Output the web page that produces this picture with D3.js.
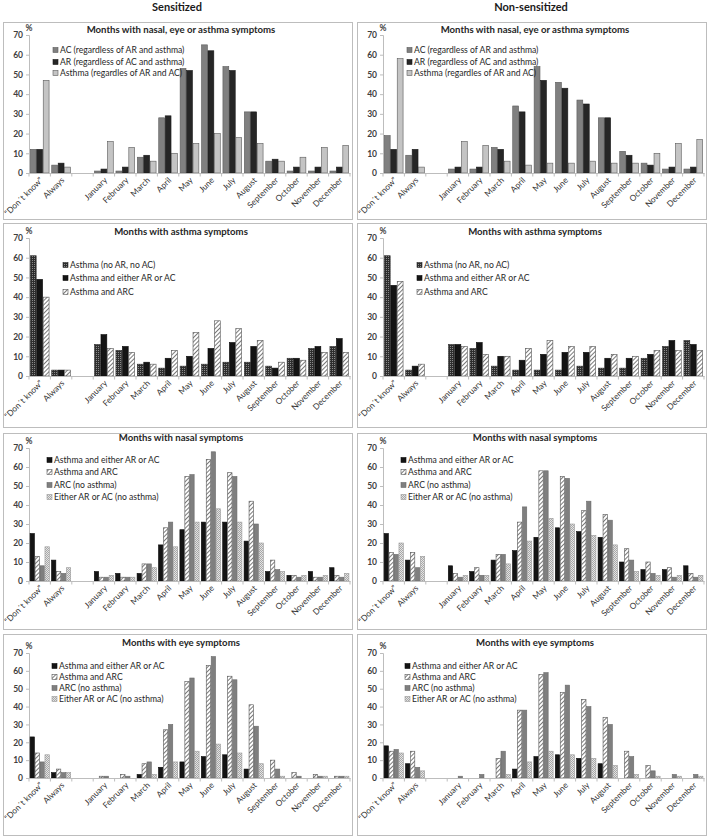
<!DOCTYPE html>
<html><head><meta charset="utf-8">
<script src="https://cdn.jsdelivr.net/npm/d3@7/dist/d3.min.js"></script>
<style>
body{margin:0;background:#fff;}
svg{display:block;font-family:Lato, "Open Sans", sans-serif;}
</style></head>
<body><svg id="chart" width="709" height="837"></svg>
<script>
// ---------- DATA ----------
const categories = ["\u201cDon\u00b4t know\u201d","Always","January","February","March","April","May","June","July","August","September","October","November","December"];
const yTicks = [0,10,20,30,40,50,60,70];
const columnTitles = ["Sensitized","Non-sensitized"];
const panelTitles = ["Months with nasal, eye or asthma symptoms","Months with asthma symptoms","Months with nasal symptoms","Months with eye symptoms"];

const seriesRow1 = ["AC (regardless of AR and asthma)","AR (regardless of AC and asthma)","Asthma (regardles of AR and AC)"];
const seriesRow2 = ["Asthma (no AR, no AC)","Asthma and either AR or AC","Asthma and ARC"];
const seriesRow34 = ["Asthma and either AR or AC","Asthma and ARC","ARC (no asthma)","Either AR or AC (no asthma)"];

// Row 1 - nasal, eye or asthma
const s1_AC     = [12,4,1,1,8,28,53,65,54,31,6,1,1,1];
const s1_AR     = [12,5,2,3,9,29,52,62,52,31,7,3,3,3];
const s1_Asthma = [47,3,16,13,6,10,15,20,18,15,6,8,13,14];
const n1_AC     = [19,9,2,2,13,34,54,46,37,28,11,5,2,2];
const n1_AR     = [12,12,3,3,12,31,47,43,35,28,9,4,3,3];
const n1_Asthma = [58,3,16,14,6,4,5,5,6,5,5,10,15,17];

// Row 2 - asthma symptoms
const s2_AsthmaOnly = [61,3,16,13,6,4,5,6,7,7,5,9,14,15];
const s2_AsthmaEither = [49,3,21,15,7,9,10,14,17,15,4,9,15,19];
const s2_AsthmaARC  = [40,3,14,12,6,13,22,28,24,18,7,8,12,12];
const n2_AsthmaOnly = [61,3,16,14,5,3,3,3,5,4,4,9,15,18];
const n2_AsthmaEither = [46,5,16,17,10,8,11,12,12,9,9,11,18,16];
const n2_AsthmaARC  = [48,6,15,11,10,14,18,15,15,11,10,13,13,13];

// Row 3 - nasal symptoms
const s3_AsthmaEither = [25,11,5,4,4,19,27,31,31,21,5,3,5,7];
const s3_AsthmaARC    = [13,5,2,2,9,28,55,64,57,42,11,3,2,3];
const s3_ARC          = [8,4,2,2,9,31,56,68,55,30,6,2,2,2];
const s3_Either       = [18,7,3,2,7,18,31,38,31,20,5,3,3,4];
const n3_AsthmaEither = [25,11,8,5,11,16,23,28,26,23,10,6,6,8];
const n3_AsthmaARC    = [15,15,4,7,14,31,58,55,37,35,17,10,7,4];
const n3_ARC          = [14,7,2,3,14,39,58,54,42,32,11,4,2,2];
const n3_Either       = [20,13,3,3,9,21,33,30,24,19,5,3,3,3];

// Row 4 - eye symptoms
const s4_AsthmaEither = [23,3,0,0,2,6,9,12,13,5,0,0,0,0];
const s4_AsthmaARC    = [14,5,1,2,8,27,54,63,57,41,10,3,2,1];
const s4_ARC          = [9,3,1,1,9,30,56,68,55,29,5,1,1,1];
const s4_Either       = [13,3,0,0,2,9,15,19,14,8,1,0,1,1];
const n4_AsthmaEither = [18,8,0,0,0,5,12,13,11,8,0,0,0,0];
const n4_AsthmaARC    = [15,15,0,0,11,38,58,48,44,34,15,7,0,0];
const n4_ARC          = [16,6,1,2,15,38,59,52,40,30,12,4,2,2];
const n4_Either       = [14,4,0,0,2,9,15,13,11,7,2,1,1,1];

// ---------- STYLE / LAYOUT ----------
const svg = d3.select("#chart");
const defs = svg.append("defs");
// patterns
const pDots = defs.append("pattern").attr("id","dotsDark").attr("width",2).attr("height",2).attr("patternUnits","userSpaceOnUse");
pDots.append("rect").attr("width",2).attr("height",2).attr("fill","#2e2e2e");
pDots.append("rect").attr("width",1).attr("height",1).attr("fill","#8a8a8a");
const pHatch = defs.append("pattern").attr("id","hatch").attr("width",3).attr("height",3).attr("patternUnits","userSpaceOnUse").attr("patternTransform","rotate(45)");
pHatch.append("rect").attr("width",3).attr("height",3).attr("fill","#ffffff");
pHatch.append("line").attr("x1",0.5).attr("y1",0).attr("x2",0.5).attr("y2",3).attr("stroke","#7a7a7a").attr("stroke-width",1);
const pCheck = defs.append("pattern").attr("id","checkLight").attr("width",2).attr("height",2).attr("patternUnits","userSpaceOnUse");
pCheck.append("rect").attr("width",2).attr("height",2).attr("fill","#e4e4e4");
pCheck.append("rect").attr("width",1).attr("height",1).attr("fill","#a8a8a8");
pCheck.append("rect").attr("x",1).attr("y",1).attr("width",1).attr("height",1).attr("fill","#a8a8a8");

const styles = {
  "AC (regardless of AR and asthma)": {fill:"#808080", stroke:"#5a5a5a"},
  "AR (regardless of AC and asthma)": {fill:"#262626", stroke:"#1a1a1a"},
  "Asthma (regardles of AR and AC)": {fill:"#c4c4c4", stroke:"#5a5a5a"},
  "Asthma (no AR, no AC)": {fill:"url(#dotsDark)", stroke:"#2a2a2a"},
  "Asthma and either AR or AC": {fill:"#141414", stroke:"#0a0a0a"},
  "Asthma and ARC": {fill:"url(#hatch)", stroke:"#555"},
  "ARC (no asthma)": {fill:"#7f7f7f", stroke:"#6a6a6a"},
  "Either AR or AC (no asthma)": {fill:"url(#checkLight)", stroke:"#9a9a9a"}
};

const rows = [
  {boxTop:22, boxBottom:219, y70:35, y0:173, titleY:30, legY:[50,62,73], legX:[53,407], names:seriesRow1,
   data:[[s1_AC,s1_AR,s1_Asthma],[n1_AC,n1_AR,n1_Asthma]]},
  {boxTop:223, boxBottom:427, y70:238, y0:376, titleY:232, legY:[265,278,292], legX:[63,417], names:seriesRow2,
   data:[[s2_AsthmaOnly,s2_AsthmaEither,s2_AsthmaARC],[n2_AsthmaOnly,n2_AsthmaEither,n2_AsthmaARC]]},
  {boxTop:433, boxBottom:629, y70:448, y0:581, titleY:438, legY:[460,472,485,497], legX:[47,401], names:seriesRow34,
   data:[[s3_AsthmaEither,s3_AsthmaARC,s3_ARC,s3_Either],[n3_AsthmaEither,n3_AsthmaARC,n3_ARC,n3_Either]]},
  {boxTop:634, boxBottom:835, y70:653, y0:778, titleY:643, legY:[666,677,688,699], legX:[52,405], names:seriesRow34,
   data:[[s4_AsthmaEither,s4_AsthmaARC,s4_ARC,s4_Either],[n4_AsthmaEither,n4_AsthmaARC,n4_ARC,n4_Either]]}
];
const colOffsets = [0,354];

// band domain with an empty slot between "Always" and "January"
const bandDomain = [categories[0], categories[1], "__gap__", ...categories.slice(2)];

// column headers
columnTitles.forEach((t,i)=>{
  svg.append("text").attr("x",colOffsets[i]+177).attr("y",11).attr("text-anchor","middle")
    .attr("font-size",11).attr("font-weight","bold").attr("fill","#1a1a1a").text(t);
});

rows.forEach((row,ri)=>{
  colOffsets.forEach((ox,ci)=>{
    const g = svg.append("g");
    // panel box
    g.append("rect").attr("x",ox+3.5).attr("y",row.boxTop+0.5).attr("width",349).attr("height",row.boxBottom-row.boxTop)
      .attr("fill","#fff").attr("stroke","#bdbdbd").attr("stroke-width",1);
    const x0 = d3.scaleBand().domain(bandDomain).range([ox+29, ox+350]).paddingInner(0).paddingOuter(0);
    const names = row.names;
    const x1 = d3.scaleBand().domain(names).range([0, x0.bandwidth()]).paddingOuter(0.16).paddingInner(0);
    const y = d3.scaleLinear().domain([0,70]).range([row.y0,row.y70]);

    // title
    g.append("text").attr("x",ox+181).attr("y",row.titleY).attr("dy","0.35em").attr("text-anchor","middle")
      .attr("font-size",9.6).attr("font-weight","bold").attr("fill","#262626").text(panelTitles[ri]);

    // y axis
    const yAx = g.append("g").attr("transform",`translate(${ox+29},0)`)
      .call(d3.axisLeft(y).tickValues(yTicks).tickSize(3).tickPadding(3));
    yAx.select(".domain").attr("stroke","#bdbdbd");
    yAx.selectAll(".tick line").attr("stroke","#bdbdbd");
    yAx.selectAll(".tick text").attr("font-size",8.5).attr("font-weight","bold").attr("fill","#404040").attr("font-family","Lato, sans-serif");
    g.append("text").attr("x",ox+29).attr("y",row.y70-4).attr("text-anchor","middle")
      .attr("font-size",8.5).attr("font-weight","bold").attr("fill","#404040").text("%");

    // bars
    const dataArr = row.data[ci];
    names.forEach((nm,si)=>{
      const vals = dataArr[si];
      const st = styles[nm];
      g.append("g").selectAll("rect").data(vals.map((v,k)=>({c:categories[k],v:v}))).join("rect")
        .filter(d=>d.v>0)
        .attr("x",d=>x0(d.c)+x1(nm)+0.3)
        .attr("y",d=>y(d.v))
        .attr("width",x1.bandwidth()-0.6)
        .attr("height",d=>y(0)-y(d.v))
        .attr("fill",st.fill).attr("stroke",st.stroke).attr("stroke-width",0.6);
    });

    // x axis
    const xAx = g.append("g").attr("transform",`translate(0,${row.y0})`)
      .call(d3.axisBottom(x0).tickSize(0).tickFormat(""));
    xAx.select(".domain").attr("stroke","#bdbdbd");
    xAx.selectAll(".tick").remove();
    // boundary ticks
    const bounds = bandDomain.map(c=>x0(c)).concat([x0.range()[1]]);
    g.append("g").selectAll("line").data(bounds).join("line")
      .attr("x1",d=>d).attr("x2",d=>d).attr("y1",row.y0).attr("y2",row.y0+3.5)
      .attr("stroke","#bdbdbd");
    // labels
    g.append("g").selectAll("text").data(categories).join("text")
      .attr("transform",d=>`translate(${x0(d)+x0.bandwidth()/2+2},${row.y0+6}) rotate(-45)`)
      .attr("text-anchor","end").attr("dy","0.3em")
      .attr("font-size",8.3).attr("fill","#333").text(d=>d);

    // legend
    const lg = g.append("g");
    names.forEach((nm,si)=>{
      const st = styles[nm];
      const lx = row.legX[ci], ly = row.legY[si];
      lg.append("rect").attr("x",lx).attr("y",ly-2.5).attr("width",5).attr("height",5)
        .attr("fill",st.fill).attr("stroke",st.stroke).attr("stroke-width",0.6);
      lg.append("text").attr("x",lx+7).attr("y",ly).attr("dy","0.35em")
        .attr("font-size",8.6).attr("fill","#262626").text(nm);
    });
  });
});
</script>
</body></html>
